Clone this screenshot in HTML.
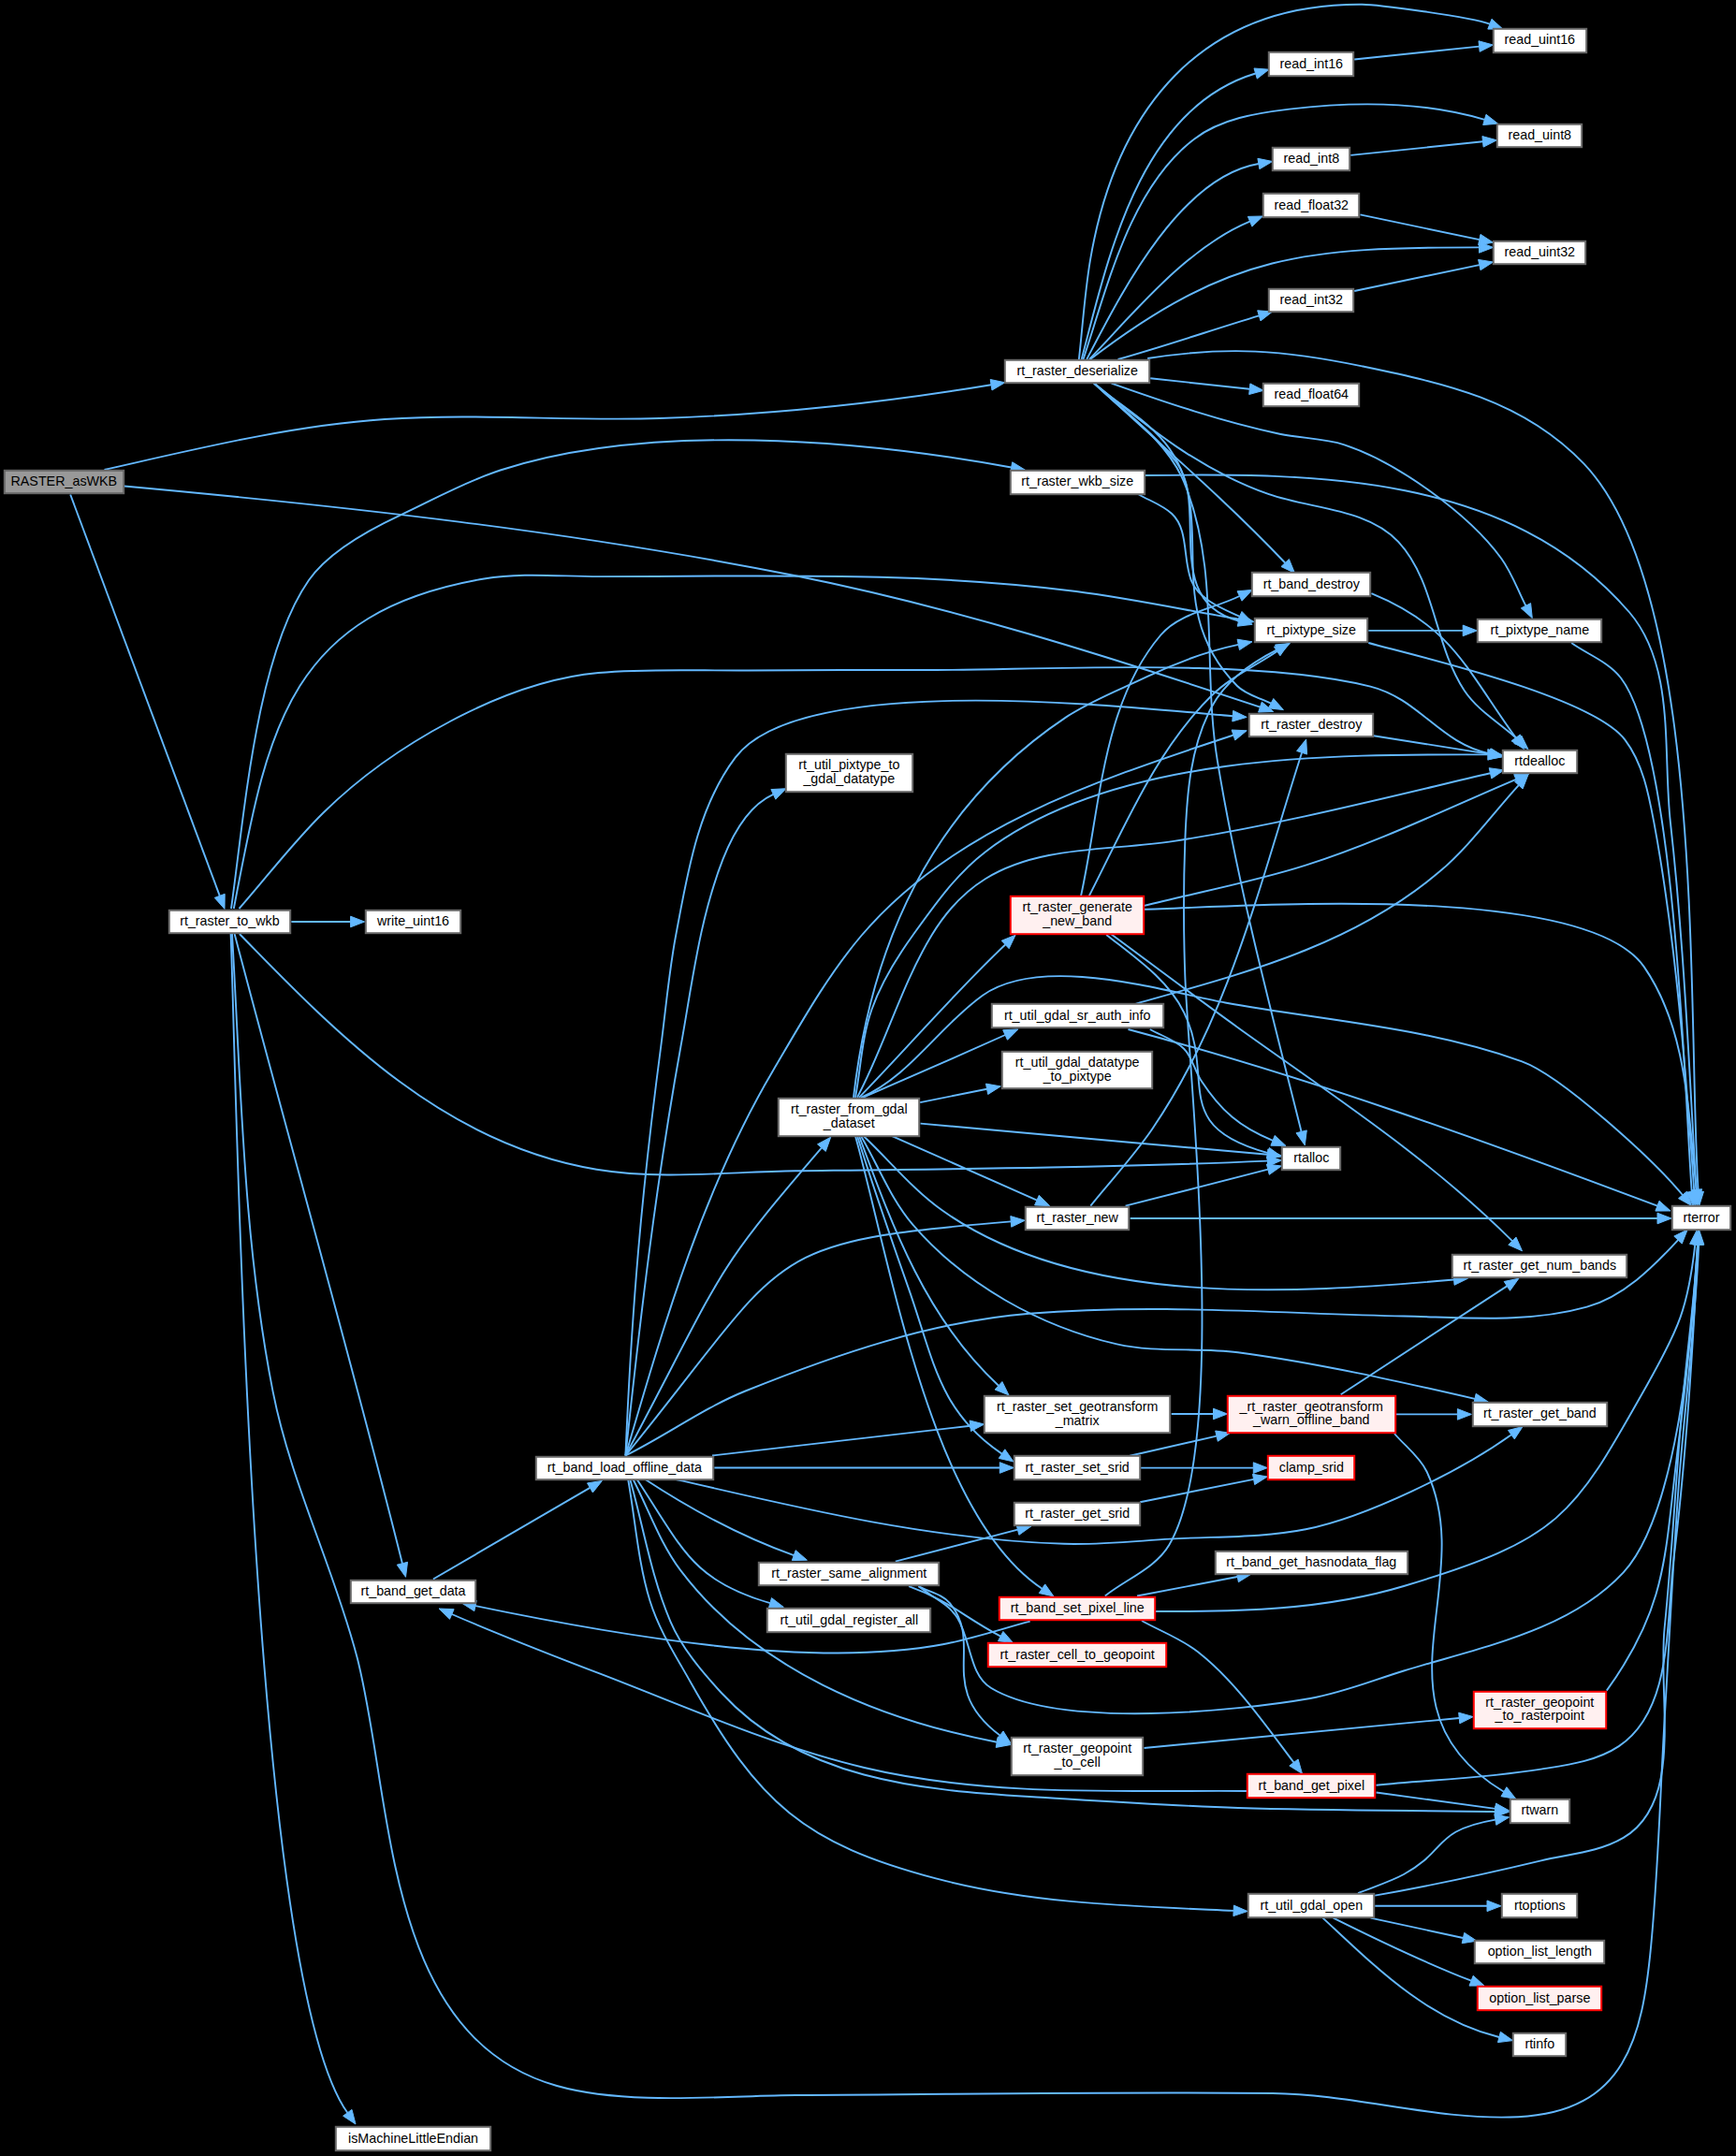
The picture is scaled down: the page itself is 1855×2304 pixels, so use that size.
<!DOCTYPE html>
<html><head><meta charset="utf-8"><style>
html,body{margin:0;padding:0;background:#000;width:1855px;height:2304px;overflow:hidden}
svg{display:block}
path{fill:none;stroke:#63b8ff;stroke-width:1.9}
polygon.ah{fill:#63b8ff;stroke:#63b8ff;stroke-width:1}
rect.nn{fill:#fff;stroke:#666;stroke-width:2}
rect.nd{fill:#fff0f0;stroke:#f00;stroke-width:2}
rect.nr{fill:#999;stroke:#666;stroke-width:2}
text{font-family:"Liberation Sans",sans-serif;font-size:14.3px;fill:#000;text-anchor:middle}
</style></head><body>
<svg width="1855" height="2304" viewBox="0 0 1855 2304">
<g>
<path d="M111.5,502.0 C209.8,479.8 310.1,454.9 411.0,448.0 C508.7,441.4 606.9,450.1 704.8,447.0 C827.4,443.1 939.7,431.0 1059.1,411.2"/>
<polygon class="ah" points="1073.9,408.8 1060.0,417.0 1058.2,405.5"/>
<path d="M75.2,528.5 L234.8,957.3"/>
<polygon class="ah" points="240.0,971.4 229.3,959.4 240.2,955.3"/>
<path d="M311.3,985.0 L374.6,985.0"/>
<polygon class="ah" points="389.6,985.0 374.6,990.8 374.6,979.2"/>
<path d="M1152.9,384.0 C1156.9,348.8 1159.0,313.3 1164.9,278.3 C1192.4,116.4 1283.3,3.3 1455.5,4.7 C1470.0,4.8 1571.0,17.7 1591.9,25.7"/>
<polygon class="ah" points="1605.9,31.1 1589.8,31.1 1594.0,20.3"/>
<path d="M1155.7,384.0 C1183.6,277.8 1216.6,116.0 1341.6,78.5"/>
<polygon class="ah" points="1356.0,74.2 1343.3,84.1 1340.0,73.0"/>
<path d="M1157.5,384.0 C1182.9,307.8 1207.0,201.3 1276.3,148.4 C1304.5,126.9 1342.6,120.8 1377.8,116.6 C1444.4,108.7 1521.2,108.4 1586.3,127.9"/>
<polygon class="ah" points="1600.7,132.2 1584.7,133.5 1588.0,122.3"/>
<path d="M1161.2,384.0 C1195.8,318.0 1258.9,189.6 1344.9,175.0"/>
<polygon class="ah" points="1359.7,172.5 1345.9,180.7 1343.9,169.3"/>
<path d="M1164.0,384.0 C1212.3,333.7 1268.2,264.6 1335.6,236.7"/>
<polygon class="ah" points="1349.5,231.0 1337.9,242.1 1333.4,231.4"/>
<path d="M1164.9,384.0 C1313.7,270.2 1396.3,264.4 1580.5,264.4"/>
<polygon class="ah" points="1595.5,264.4 1580.5,270.2 1580.5,258.6"/>
<path d="M1194.6,384.0 C1245.3,369.7 1295.2,352.6 1345.4,337.4"/>
<polygon class="ah" points="1359.7,333.0 1347.0,342.9 1343.7,331.8"/>
<path d="M1229.2,404.3 L1335.3,415.7"/>
<polygon class="ah" points="1350.2,417.3 1334.7,421.5 1335.9,409.9"/>
<path d="M1447.2,63.5 L1580.6,49.6"/>
<polygon class="ah" points="1595.5,48.0 1581.2,55.3 1580.0,43.8"/>
<path d="M1443.3,165.9 L1584.5,151.3"/>
<polygon class="ah" points="1599.4,149.8 1585.1,157.1 1583.9,145.6"/>
<path d="M1453.4,229.4 L1580.8,256.1"/>
<polygon class="ah" points="1595.5,259.2 1579.6,261.8 1582.0,250.4"/>
<path d="M1447.2,311.0 L1580.8,283.1"/>
<polygon class="ah" points="1595.5,280.0 1582.0,288.7 1579.6,277.4"/>
<path d="M1226.2,383.0 C1311.5,369.6 1371.5,373.9 1455.5,391.4 C1543.0,409.6 1626.4,426.8 1692.3,495.4 C1824.3,632.8 1802.8,1088.8 1814.7,1273.6"/>
<polygon class="ah" points="1815.7,1288.6 1808.9,1274.0 1820.5,1273.3"/>
<path d="M1462.3,673.9 L1563.2,673.9"/>
<polygon class="ah" points="1578.2,673.9 1563.2,679.7 1563.2,668.1"/>
<path d="M1462.3,687.0 C1511.4,700.6 1700.8,743.7 1736.4,790.6 C1755.2,815.4 1761.6,848.1 1767.3,878.7 C1790.5,1003.4 1801.6,1145.5 1810.3,1273.6"/>
<polygon class="ah" points="1811.3,1288.6 1804.5,1274.0 1816.1,1273.2"/>
<path d="M1679.1,687.0 C1696.7,699.5 1718.9,707.3 1732.0,724.5 C1792.0,802.9 1800.9,1191.5 1807.8,1273.7"/>
<polygon class="ah" points="1809.1,1288.6 1802.1,1274.1 1813.6,1273.2"/>
<path d="M1465.4,634.2 C1552.6,670.0 1566.7,715.3 1619.7,788.4"/>
<polygon class="ah" points="1628.5,800.5 1615.0,791.8 1624.4,785.0"/>
<path d="M1467.6,786.2 L1591.6,805.9"/>
<polygon class="ah" points="1606.4,808.3 1590.7,811.7 1592.5,800.2"/>
<path d="M132.7,519.5 C372.5,541.4 612.6,568.0 848.8,615.0 C1017.0,648.5 1183.7,701.3 1346.5,755.6"/>
<polygon class="ah" points="1360.7,760.4 1344.6,761.1 1348.3,750.1"/>
<path d="M247.0,971.0 C260.8,874.5 273.2,701.4 330.0,620.0 C351.7,588.9 394.3,566.1 427.6,550.6 C463.0,534.1 497.4,514.5 534.6,502.5 C693.7,451.1 917.0,469.6 1080.6,499.5"/>
<polygon class="ah" points="1095.4,502.2 1079.6,505.2 1081.7,493.8"/>
<path d="M249.8,971.0 C285.4,786.0 303.7,654.8 517.2,618.5 C557.4,611.7 598.8,616.1 639.6,616.1 C810.9,616.1 980.4,610.2 1150.0,632.0 C1208.5,639.5 1267.0,652.1 1325.2,662.0"/>
<polygon class="ah" points="1340.0,664.5 1324.2,667.7 1326.2,656.3"/>
<path d="M255.5,971.0 C285.6,936.7 313.2,900.1 345.8,868.2 C417.4,798.1 537.6,728.1 639.6,719.0 C692.9,714.2 746.5,716.9 800.0,716.5 C866.7,715.9 933.3,716.1 1000.0,716.0 C1115.4,715.8 1340.8,702.6 1464.3,733.6 C1517.0,746.8 1538.8,794.8 1592.4,805.6"/>
<polygon class="ah" points="1607.1,808.6 1591.2,811.3 1593.5,799.9"/>
<path d="M250.6,998.0 C309.7,1222.7 373.5,1445.4 429.9,1670.7"/>
<polygon class="ah" points="433.5,1685.3 424.2,1672.2 435.5,1669.3"/>
<path d="M246.6,998.0 C253.5,1181.9 267.1,2112.4 371.3,2257.8"/>
<polygon class="ah" points="380.0,2270.0 366.6,2261.2 376.0,2254.4"/>
<path d="M255.9,998.0 C364.4,1109.7 476.4,1223.3 637.5,1249.7 C707.4,1261.2 779.2,1252.1 850.0,1251.3 C1018.2,1249.3 1186.4,1247.8 1354.4,1240.6"/>
<polygon class="ah" points="1369.4,1240.0 1354.7,1246.4 1354.2,1234.8"/>
<path d="M248.0,998.0 C257.5,1161.2 260.0,1326.1 291.5,1486.6 C310.6,1584.0 356.3,1674.5 381.4,1770.5 C420.4,1919.8 407.6,2175.9 595.0,2229.0 C671.1,2250.6 778.0,2239.3 850.0,2239.0 C1020.0,2238.2 1190.0,2235.0 1360.0,2237.0 C1447.8,2238.0 1534.5,2266.4 1622.2,2262.2 C1737.8,2256.7 1754.8,2176.0 1764.0,2081.3 C1771.9,2000.0 1773.8,1918.3 1778.7,1836.8 C1783.6,1755.3 1787.5,1673.7 1793.4,1592.3 C1799.8,1504.6 1811.4,1417.8 1815.2,1330.0"/>
<polygon class="ah" points="1815.8,1315.0 1820.9,1330.2 1809.4,1329.7"/>
<path d="M462.9,1687.5 L630.4,1589.9"/>
<polygon class="ah" points="643.4,1582.4 633.4,1595.0 627.5,1584.9"/>
<path d="M668.4,1555.5 C684.1,1408.1 701.0,1264.6 727.4,1118.5 C739.6,1051.2 747.5,981.9 772.5,918.2 C783.2,891.0 799.7,861.0 826.3,848.9"/>
<polygon class="ah" points="840.0,842.7 828.8,854.2 823.9,843.6"/>
<path d="M668.4,1555.5 C675.1,1398.2 685.4,1275.7 706.2,1118.5 C711.4,1079.0 714.7,1039.2 722.1,1000.0 C734.5,934.2 745.3,863.0 785.7,809.6 C857.4,714.8 1211.8,756.7 1317.2,765.2"/>
<polygon class="ah" points="1332.2,766.4 1316.8,771.0 1317.7,759.4"/>
<path d="M668.4,1555.5 C777.1,1350.8 758.5,1365.6 877.9,1226.6"/>
<polygon class="ah" points="887.7,1215.2 882.3,1230.4 873.5,1222.8"/>
<path d="M668.4,1555.5 C709.6,1414.9 751.1,1271.2 825.5,1145.0 C854.8,1095.3 883.0,1044.1 920.3,1000.0 C1019.6,882.7 1177.5,832.3 1318.0,785.5"/>
<polygon class="ah" points="1332.2,780.8 1319.8,791.0 1316.1,780.0"/>
<path d="M668.4,1555.5 C845.7,1337.5 808.4,1327.6 1080.2,1305.4"/>
<polygon class="ah" points="1095.2,1304.2 1080.7,1311.2 1079.8,1299.6"/>
<path d="M668.4,1555.5 C711.9,1534.0 751.5,1504.7 796.5,1486.5 C893.7,1447.2 995.5,1412.2 1100.0,1403.7 C1232.9,1392.9 1366.7,1403.6 1500.0,1406.5 C1565.3,1407.9 1632.8,1414.4 1695.6,1396.7 C1734.4,1385.8 1765.8,1354.8 1793.1,1325.1"/>
<polygon class="ah" points="1803.2,1314.0 1797.3,1329.0 1788.8,1321.1"/>
<path d="M761.0,1555.5 L1036.8,1523.7"/>
<polygon class="ah" points="1051.7,1522.0 1037.5,1529.5 1036.1,1518.0"/>
<path d="M763.3,1568.5 L1068.3,1568.5"/>
<polygon class="ah" points="1083.3,1568.5 1068.3,1574.3 1068.3,1562.7"/>
<path d="M912.0,1172.8 C931.0,1006.5 996.9,861.3 1139.2,766.4 C1166.0,748.5 1196.6,737.1 1225.6,723.2 C1256.7,708.3 1289.5,696.0 1323.3,688.9"/>
<polygon class="ah" points="1338.0,685.8 1324.5,694.6 1322.1,683.2"/>
<path d="M914.0,1172.8 C919.8,1141.4 920.9,1108.8 931.5,1078.7 C941.5,1050.4 957.5,1024.3 975.0,1000.0 C998.1,967.9 1021.3,934.4 1052.8,910.4 C1190.4,805.4 1424.3,805.8 1589.8,806.4"/>
<polygon class="ah" points="1604.8,806.5 1589.8,812.2 1589.8,800.6"/>
<path d="M916.0,1172.8 C945.6,1116.8 962.5,1054.3 995.2,1000.0 C1009.6,976.1 1029.1,953.9 1052.8,939.2 C1111.0,903.0 1186.7,909.4 1254.4,898.9 C1367.7,881.3 1480.9,852.4 1592.5,826.3"/>
<polygon class="ah" points="1607.1,822.9 1593.8,832.0 1591.2,820.7"/>
<path d="M918.0,1172.8 C970.6,1118.7 1019.4,1061.4 1074.2,1009.5"/>
<polygon class="ah" points="1085.1,999.2 1078.2,1013.7 1070.2,1005.3"/>
<path d="M920.0,1172.8 C972.0,1150.4 1003.9,1096.5 1050.0,1063.7 C1113.9,1018.2 1249.9,1060.7 1309.2,1071.5 C1415.2,1090.7 1525.0,1097.7 1626.3,1134.3 C1668.6,1149.6 1767.3,1240.1 1797.9,1277.0"/>
<polygon class="ah" points="1807.5,1288.5 1793.5,1280.7 1802.4,1273.3"/>
<path d="M922.0,1172.8 C972.8,1150.9 1023.6,1128.7 1074.1,1106.0"/>
<polygon class="ah" points="1087.8,1099.9 1076.5,1111.3 1071.7,1100.8"/>
<path d="M983.1,1178.1 L1054.6,1163.8"/>
<polygon class="ah" points="1069.3,1160.9 1055.7,1169.5 1053.5,1158.1"/>
<path d="M983.5,1200.6 C1107.1,1211.8 1230.8,1223.2 1354.5,1233.7"/>
<polygon class="ah" points="1369.4,1235.0 1354.0,1239.5 1354.9,1227.9"/>
<path d="M952.7,1213.9 L1108.0,1282.6"/>
<polygon class="ah" points="1121.7,1288.7 1105.6,1287.9 1110.3,1277.3"/>
<path d="M922.7,1214.0 C950.7,1240.4 975.2,1271.0 1006.6,1293.3 C1154.3,1398.3 1383.6,1382.4 1553.6,1367.5"/>
<polygon class="ah" points="1568.5,1366.2 1554.1,1373.3 1553.1,1361.7"/>
<path d="M920.0,1214.0 C938.5,1245.6 951.6,1281.1 975.5,1308.9 C1030.4,1372.6 1111.3,1417.5 1193.3,1436.4 C1235.5,1446.1 1280.0,1439.5 1322.9,1445.2 C1408.1,1456.6 1492.1,1475.6 1575.9,1494.9"/>
<polygon class="ah" points="1590.5,1498.3 1574.6,1500.6 1577.2,1489.3"/>
<path d="M1155.0,957.6 C1175.9,862.6 1177.3,752.5 1240.4,678.5 C1260.7,654.7 1296.5,650.9 1324.5,637.0"/>
<polygon class="ah" points="1338.0,630.4 1327.1,642.2 1322.0,631.8"/>
<path d="M1163.9,957.2 C1201.9,883.2 1234.9,802.6 1294.0,744.0 C1314.2,723.9 1341.1,712.0 1364.7,696.0"/>
<polygon class="ah" points="1377.1,687.6 1367.9,700.8 1361.4,691.2"/>
<path d="M1221.7,968.1 C1279.5,953.6 1338.4,942.8 1395.2,924.7 C1472.3,900.2 1545.5,864.5 1620.0,832.9"/>
<polygon class="ah" points="1633.8,827.1 1622.2,838.3 1617.7,827.6"/>
<path d="M1221.7,971.7 C1312.1,970.4 1691.7,939.6 1756.7,1033.1 C1803.3,1100.1 1803.8,1190.2 1812.8,1271.3"/>
<polygon class="ah" points="1814.5,1286.2 1807.1,1271.9 1818.6,1270.7"/>
<path d="M1182.2,998.9 C1212.9,1023.1 1248.0,1046.7 1265.1,1081.8 C1299.9,1153.4 1248.1,1203.0 1354.9,1232.1"/>
<polygon class="ah" points="1369.4,1236.0 1353.4,1237.7 1356.4,1226.5"/>
<path d="M1185.6,997.0 C1231.4,1030.7 1276.7,1065.0 1322.9,1098.2 C1424.7,1171.3 1527.0,1237.3 1615.9,1326.2"/>
<polygon class="ah" points="1626.5,1336.8 1611.8,1330.3 1620.0,1322.1"/>
<path d="M1213.3,1072.8 C1329.6,1039.7 1443.5,1011.6 1538.1,931.6 C1570.0,904.6 1594.6,870.0 1622.8,839.1"/>
<polygon class="ah" points="1632.9,828.0 1627.1,843.0 1618.5,835.2"/>
<path d="M1205.5,1100.0 C1397.7,1151.1 1584.9,1218.7 1771.0,1288.7"/>
<polygon class="ah" points="1785.0,1294.0 1768.9,1294.1 1773.0,1283.3"/>
<path d="M1228.8,1100.0 C1240.9,1106.9 1255.2,1110.9 1265.1,1120.7 C1274.1,1129.7 1276.3,1143.7 1283.3,1154.4 C1304.7,1187.1 1324.7,1204.6 1360.1,1218.8"/>
<polygon class="ah" points="1374.0,1224.4 1357.9,1224.2 1362.2,1213.4"/>
<path d="M1207.7,1302.0 L1771.0,1302.0"/>
<polygon class="ah" points="1786.0,1302.0 1771.0,1307.8 1771.0,1296.2"/>
<path d="M1202.6,1288.7 L1354.9,1249.7"/>
<polygon class="ah" points="1369.4,1246.0 1356.3,1255.3 1353.4,1244.1"/>
<path d="M1165.3,1288.7 C1187.3,1261.2 1211.6,1235.3 1231.4,1206.2 C1313.7,1085.5 1347.1,941.4 1391.1,804.3"/>
<polygon class="ah" points="1395.7,790.0 1396.6,806.1 1385.6,802.5"/>
<path d="M1169.0,409.6 C1203.9,441.9 1247.0,471.2 1265.2,515.2 C1303.8,608.7 1284.7,714.4 1300.8,812.6 C1322.8,946.3 1357.7,1078.1 1390.6,1209.4"/>
<polygon class="ah" points="1394.3,1223.9 1385.0,1210.8 1396.3,1207.9"/>
<path d="M1169.0,409.6 C1196.0,433.1 1229.6,450.6 1250.0,480.0 C1302.7,555.8 1238.8,648.4 1322.0,733.0 C1331.5,742.7 1346.1,745.5 1358.1,751.7"/>
<polygon class="ah" points="1371.4,758.6 1355.4,756.8 1360.8,746.5"/>
<path d="M1169.0,409.6 C1198.3,437.6 1232.2,461.5 1256.8,493.7 C1292.5,540.5 1240.4,642.0 1323.7,663.5"/>
<polygon class="ah" points="1338.2,667.3 1322.2,669.2 1325.1,657.9"/>
<path d="M1216.5,528.2 C1228.4,535.1 1242.1,539.6 1252.2,549.0 C1270.3,565.9 1263.8,597.4 1272.9,620.4 C1280.8,640.3 1305.0,649.8 1324.6,658.8"/>
<polygon class="ah" points="1338.2,665.0 1322.1,664.0 1327.0,653.5"/>
<path d="M1169.2,409.6 C1237.8,473.4 1308.8,533.5 1373.2,601.5"/>
<polygon class="ah" points="1383.5,612.4 1369.0,605.5 1377.4,597.5"/>
<path d="M1187.6,409.6 C1246.6,430.5 1306.2,450.6 1367.4,463.7 C1390.2,468.6 1414.3,468.0 1436.5,475.3 C1492.5,493.6 1569.4,549.2 1604.2,596.7 C1615.4,612.0 1621.7,630.4 1630.4,647.3"/>
<polygon class="ah" points="1637.3,660.6 1625.3,649.9 1635.6,644.6"/>
<path d="M1169.2,409.6 C1227.2,457.5 1283.8,503.0 1355.9,528.2 C1402.2,544.4 1460.6,543.0 1494.1,578.9 C1533.6,621.2 1532.6,689.4 1564.6,737.7 C1578.9,759.3 1602.8,772.8 1621.9,790.3"/>
<polygon class="ah" points="1632.9,800.5 1617.9,794.6 1625.8,786.1"/>
<path d="M1223.4,508.0 C1403.1,505.6 1612.5,505.1 1740.8,654.0 C1790.6,711.8 1776.5,802.8 1784.9,878.7 C1799.5,1009.9 1805.0,1141.9 1812.6,1273.6"/>
<polygon class="ah" points="1813.5,1288.6 1806.8,1274.0 1818.4,1273.3"/>
<path d="M1180.8,1705.5 C1203.6,1687.3 1234.5,1676.1 1249.3,1651.0 C1314.2,1541.2 1270.2,1151.1 1266.3,1042.7 C1264.6,994.8 1264.5,946.8 1266.3,898.9 C1268.1,850.0 1271.7,798.0 1295.0,755.0 C1309.8,727.8 1337.4,708.0 1365.1,694.2"/>
<polygon class="ah" points="1378.5,687.5 1367.7,699.4 1362.5,689.0"/>
<path d="M718.5,1580.0 C856.4,1612.2 994.6,1645.3 1137.0,1649.8 C1174.7,1651.0 1212.4,1646.9 1250.0,1644.6 C1298.4,1641.7 1347.6,1643.8 1395.2,1634.3 C1459.0,1621.6 1559.4,1572.9 1614.9,1533.2"/>
<polygon class="ah" points="1627.1,1524.5 1618.3,1537.9 1611.5,1528.5"/>
<path d="M688.0,1580.0 C738.1,1613.0 791.7,1642.0 848.3,1662.2"/>
<polygon class="ah" points="862.4,1667.2 846.3,1667.6 850.2,1656.7"/>
<path d="M680.0,1580.0 C729.8,1654.7 738.0,1688.3 822.9,1713.2"/>
<polygon class="ah" points="837.3,1717.4 821.3,1718.7 824.5,1707.6"/>
<path d="M676.0,1580.0 C693.1,1612.7 705.0,1648.7 727.2,1678.1 C807.0,1783.8 939.4,1837.8 1065.3,1861.7"/>
<polygon class="ah" points="1080.0,1864.5 1064.2,1867.4 1066.3,1856.0"/>
<path d="M673.0,1580.0 C687.4,1630.9 695.5,1684.0 716.3,1732.6 C728.6,1761.4 749.7,1785.9 770.8,1809.0 C855.6,1901.5 982.6,1912.9 1100.0,1920.0 C1174.3,1924.5 1248.5,1929.6 1322.9,1932.0 C1414.4,1934.9 1506.0,1934.7 1597.6,1936.0"/>
<polygon class="ah" points="1612.6,1936.2 1597.5,1941.8 1597.7,1930.2"/>
<path d="M671.0,1580.0 C678.8,1623.6 681.5,1668.5 694.5,1710.8 C704.1,1741.9 722.2,1769.7 738.1,1798.0 C811.0,1927.6 858.7,1969.9 1000.0,2007.4 C1103.1,2034.7 1211.6,2037.2 1318.1,2041.9"/>
<polygon class="ah" points="1333.1,2042.5 1317.9,2047.6 1318.4,2036.1"/>
<path d="M918.0,1214.0 C953.7,1310.7 989.4,1409.0 1067.0,1480.7"/>
<polygon class="ah" points="1078.0,1490.9 1063.1,1485.0 1070.9,1476.5"/>
<path d="M916.0,1214.0 C933.2,1268.5 951.7,1322.5 970.7,1376.4 C997.7,1453.0 1002.8,1507.9 1070.6,1553.6"/>
<polygon class="ah" points="1083.0,1562.0 1067.3,1558.4 1073.8,1548.8"/>
<path d="M914.0,1214.0 C952.1,1351.9 995.0,1619.1 1113.5,1697.7"/>
<polygon class="ah" points="1126.0,1706.0 1110.3,1702.5 1116.7,1692.9"/>
<path d="M1251.7,1511.0 L1296.5,1511.0"/>
<polygon class="ah" points="1311.5,1511.0 1296.5,1516.8 1296.5,1505.2"/>
<path d="M1491.8,1511.4 L1557.4,1511.4"/>
<polygon class="ah" points="1572.4,1511.4 1557.4,1517.2 1557.4,1505.6"/>
<path d="M1207.3,1555.7 L1300.0,1534.6"/>
<polygon class="ah" points="1314.6,1531.3 1301.3,1540.3 1298.7,1529.0"/>
<path d="M1219.1,1568.6 L1339.3,1568.6"/>
<polygon class="ah" points="1354.3,1568.6 1339.3,1574.4 1339.3,1562.8"/>
<path d="M1218.2,1605.2 L1339.6,1580.9"/>
<polygon class="ah" points="1354.3,1578.0 1340.7,1586.6 1338.5,1575.3"/>
<path d="M1432.7,1490.3 L1610.3,1374.4"/>
<polygon class="ah" points="1622.9,1366.2 1613.5,1379.3 1607.2,1369.5"/>
<path d="M1490.0,1532.0 C1501.5,1545.5 1516.9,1556.5 1524.5,1572.5 C1581.0,1692.0 1459.0,1826.0 1606.9,1914.7"/>
<polygon class="ah" points="1619.8,1922.4 1604.0,1919.7 1609.9,1909.7"/>
<path d="M956.8,1668.7 L1087.5,1634.7"/>
<polygon class="ah" points="1102.0,1630.9 1088.9,1640.3 1086.0,1629.1"/>
<path d="M971.1,1695.1 C1015.4,1711.0 1030.0,1728.1 1069.2,1748.6"/>
<polygon class="ah" points="1082.5,1755.5 1066.5,1753.7 1071.9,1743.4"/>
<path d="M981.4,1695.1 C992.6,1701.2 1007.0,1703.4 1015.1,1713.3 C1052.0,1758.4 999.4,1802.3 1068.5,1854.6"/>
<polygon class="ah" points="1080.5,1863.6 1065.0,1859.2 1072.0,1849.9"/>
<path d="M981.4,1695.1 C995.2,1706.3 1013.5,1713.7 1022.9,1728.8 C1037.7,1752.4 1035.3,1789.7 1059.2,1804.0 C1133.8,1848.7 1326.4,1827.7 1400.0,1815.0 C1434.2,1809.1 1466.8,1795.7 1500.0,1785.5 C1581.9,1760.3 1676.4,1743.1 1734.7,1680.3 C1792.8,1617.7 1808.7,1421.5 1814.1,1330.0"/>
<polygon class="ah" points="1815.0,1315.0 1819.9,1330.3 1808.3,1329.6"/>
<path d="M1215.0,1705.5 L1322.3,1685.0"/>
<polygon class="ah" points="1337.0,1682.2 1323.4,1690.7 1321.2,1679.3"/>
<path d="M1235.0,1722.0 C1323.8,1722.4 1415.0,1720.6 1500.0,1695.0 C1669.6,1643.9 1680.6,1621.0 1760.0,1480.0 C1793.7,1420.1 1803.8,1397.6 1811.3,1329.9"/>
<polygon class="ah" points="1813.0,1315.0 1817.1,1330.5 1805.6,1329.3"/>
<path d="M1220.0,1732.0 C1240.0,1743.1 1262.0,1751.1 1280.0,1765.2 C1319.6,1796.2 1352.2,1843.4 1382.5,1883.5"/>
<polygon class="ah" points="1391.5,1895.5 1377.8,1887.0 1387.1,1880.0"/>
<path d="M1100.7,1732.7 C1069.6,1740.9 1039.0,1751.3 1007.4,1757.3 C863.7,1784.5 647.5,1745.1 508.0,1716.1"/>
<polygon class="ah" points="493.3,1713.0 509.2,1710.4 506.8,1721.7"/>
<path d="M1222.5,1868.0 L1559.3,1836.0"/>
<polygon class="ah" points="1574.2,1834.6 1559.8,1841.8 1558.7,1830.2"/>
<path d="M1716.8,1806.6 C1783.4,1714.5 1778.5,1661.0 1793.4,1543.4 C1802.4,1472.5 1809.2,1401.3 1814.0,1330.0"/>
<polygon class="ah" points="1815.0,1315.0 1819.8,1330.4 1808.2,1329.6"/>
<path d="M1470.5,1907.7 C1529.2,1902.0 1588.4,1899.9 1646.7,1890.6 C1675.2,1886.0 1705.8,1882.1 1729.8,1866.1 C1787.7,1827.4 1780.0,1734.7 1788.5,1665.6 C1802.1,1555.1 1809.1,1441.4 1814.3,1330.0"/>
<polygon class="ah" points="1815.0,1315.0 1820.1,1330.3 1808.5,1329.7"/>
<path d="M1470.5,1915.5 L1597.7,1932.9"/>
<polygon class="ah" points="1612.6,1934.9 1597.0,1938.6 1598.5,1927.1"/>
<path d="M1332.4,1914.0 C1199.2,1913.0 1055.8,1920.4 923.5,1889.0 C826.4,1866.0 732.7,1823.7 640.0,1788.2 C587.2,1768.0 534.6,1747.5 482.8,1725.0"/>
<polygon class="ah" points="469.0,1719.0 485.1,1719.7 480.5,1730.3"/>
<path d="M1451.1,2023.1 C1467.4,2016.4 1484.5,2011.4 1500.0,2003.0 C1547.0,1977.6 1530.4,1956.3 1597.8,1944.6"/>
<polygon class="ah" points="1612.6,1942.0 1598.8,1950.3 1596.8,1938.9"/>
<path d="M1469.2,2025.6 C1528.7,2015.2 1587.9,2002.5 1646.7,1988.4 C1676.3,1981.3 1708.5,1979.4 1734.7,1963.9 C1800.5,1925.0 1770.9,1815.0 1778.7,1739.0 C1787.0,1657.7 1790.8,1575.9 1798.3,1494.5 C1803.4,1439.6 1810.9,1385.0 1814.1,1330.0"/>
<polygon class="ah" points="1815.0,1315.0 1819.9,1330.3 1808.3,1329.6"/>
<path d="M1469.2,2036.8 L1589.0,2036.8"/>
<polygon class="ah" points="1604.0,2036.8 1589.0,2042.6 1589.0,2031.0"/>
<path d="M1464.6,2049.6 L1563.4,2071.0"/>
<polygon class="ah" points="1578.1,2074.2 1562.2,2076.7 1564.7,2065.4"/>
<path d="M1424.7,2049.6 C1473.4,2073.9 1521.3,2097.1 1572.1,2116.7"/>
<polygon class="ah" points="1586.1,2122.1 1570.0,2122.1 1574.2,2111.3"/>
<path d="M1413.5,2049.6 C1470.4,2102.6 1524.6,2157.6 1601.9,2177.0"/>
<polygon class="ah" points="1616.5,2180.6 1600.5,2182.6 1603.4,2171.3"/>
</g>
<g>
<rect class="nr" x="4.8" y="502.8" width="127.4" height="24.4"/>
<text x="68.3" y="519.1">RASTER_asWKB</text>
<rect class="nn" x="180.8" y="972.8" width="129.4" height="24.4"/>
<text x="245.4" y="989.0">rt_raster_to_wkb</text>
<rect class="nn" x="390.8" y="972.8" width="101.4" height="24.4"/>
<text x="441.5" y="989.0">write_uint16</text>
<rect class="nn" x="374.8" y="1688.8" width="133.4" height="24.4"/>
<text x="441.5" y="1705.2">rt_band_get_data</text>
<rect class="nn" x="358.8" y="2272.8" width="165.4" height="25.4"/>
<text x="441.5" y="2289.7">isMachineLittleEndian</text>
<rect class="nn" x="572.8" y="1556.8" width="189.4" height="24.4"/>
<text x="667.4" y="1573.0">rt_band_load_offline_data</text>
<rect class="nn" x="839.8" y="805.8" width="135.4" height="40.4"/>
<text x="907.3" y="822.2">rt_util_pixtype_to</text>
<text x="907.3" y="836.9">_gdal_datatype</text>
<rect class="nn" x="831.8" y="1173.8" width="150.4" height="40.4"/>
<text x="907.3" y="1190.0">rt_raster_from_gdal</text>
<text x="907.3" y="1204.8">_dataset</text>
<rect class="nn" x="810.8" y="1669.8" width="192.4" height="24.4"/>
<text x="907.3" y="1685.9">rt_raster_same_alignment</text>
<rect class="nn" x="819.8" y="1718.8" width="174.4" height="25.4"/>
<text x="907.3" y="1735.5">rt_util_gdal_register_all</text>
<rect class="nn" x="1073.8" y="384.8" width="154.4" height="24.4"/>
<text x="1151.2" y="401.0">rt_raster_deserialize</text>
<rect class="nn" x="1079.8" y="502.8" width="143.4" height="25.4"/>
<text x="1151.2" y="519.4">rt_raster_wkb_size</text>
<rect class="nd" x="1079.8" y="957.8" width="142.4" height="40.4"/>
<text x="1151.2" y="974.2">rt_raster_generate</text>
<text x="1151.2" y="988.9">_new_band</text>
<rect class="nn" x="1059.8" y="1072.8" width="183.4" height="25.4"/>
<text x="1151.2" y="1089.8">rt_util_gdal_sr_auth_info</text>
<rect class="nn" x="1070.8" y="1123.8" width="160.4" height="39.4"/>
<text x="1151.2" y="1139.8">rt_util_gdal_datatype</text>
<text x="1151.2" y="1154.5">_to_pixtype</text>
<rect class="nn" x="1095.8" y="1289.8" width="110.4" height="24.4"/>
<text x="1151.2" y="1306.1">rt_raster_new</text>
<rect class="nn" x="1051.8" y="1491.8" width="198.4" height="39.4"/>
<text x="1151.2" y="1508.0">rt_raster_set_geotransform</text>
<text x="1151.2" y="1522.7">_matrix</text>
<rect class="nn" x="1083.8" y="1555.8" width="134.4" height="25.4"/>
<text x="1151.2" y="1572.8">rt_raster_set_srid</text>
<rect class="nn" x="1083.8" y="1605.8" width="134.4" height="24.4"/>
<text x="1151.2" y="1622.0">rt_raster_get_srid</text>
<rect class="nd" x="1067.8" y="1706.8" width="166.4" height="24.4"/>
<text x="1151.2" y="1723.2">rt_band_set_pixel_line</text>
<rect class="nd" x="1055.8" y="1755.8" width="190.4" height="25.4"/>
<text x="1151.2" y="1772.8">rt_raster_cell_to_geopoint</text>
<rect class="nn" x="1080.8" y="1856.8" width="140.4" height="40.4"/>
<text x="1151.2" y="1873.2">rt_raster_geopoint</text>
<text x="1151.2" y="1887.9">_to_cell</text>
<rect class="nn" x="1355.8" y="55.8" width="90.4" height="25.4"/>
<text x="1401.3" y="72.8">read_int16</text>
<rect class="nn" x="1359.8" y="157.8" width="82.4" height="24.4"/>
<text x="1401.3" y="173.9">read_int8</text>
<rect class="nn" x="1349.8" y="206.8" width="102.4" height="25.4"/>
<text x="1401.3" y="223.6">read_float32</text>
<rect class="nn" x="1355.8" y="308.8" width="90.4" height="24.4"/>
<text x="1401.3" y="325.1">read_int32</text>
<rect class="nn" x="1349.8" y="409.8" width="102.4" height="24.4"/>
<text x="1401.3" y="426.0">read_float64</text>
<rect class="nn" x="1337.8" y="611.8" width="126.4" height="25.4"/>
<text x="1401.3" y="628.8">rt_band_destroy</text>
<rect class="nn" x="1340.8" y="660.8" width="120.4" height="25.4"/>
<text x="1401.3" y="677.8">rt_pixtype_size</text>
<rect class="nn" x="1334.8" y="762.8" width="132.4" height="24.4"/>
<text x="1401.3" y="779.1">rt_raster_destroy</text>
<rect class="nn" x="1369.8" y="1225.8" width="62.4" height="24.4"/>
<text x="1401.3" y="1241.9">rtalloc</text>
<rect class="nd" x="1311.8" y="1491.8" width="179.4" height="39.4"/>
<text x="1401.3" y="1507.6">_rt_raster_geotransform</text>
<text x="1401.3" y="1522.3">_warn_offline_band</text>
<rect class="nd" x="1354.8" y="1555.8" width="92.4" height="25.4"/>
<text x="1401.3" y="1572.5">clamp_srid</text>
<rect class="nn" x="1298.8" y="1657.8" width="205.4" height="24.4"/>
<text x="1401.3" y="1673.9">rt_band_get_hasnodata_flag</text>
<rect class="nd" x="1332.8" y="1895.8" width="136.4" height="25.4"/>
<text x="1401.3" y="1912.8">rt_band_get_pixel</text>
<rect class="nn" x="1333.8" y="2023.8" width="134.4" height="25.4"/>
<text x="1401.3" y="2040.5">rt_util_gdal_open</text>
<rect class="nn" x="1595.8" y="30.8" width="99.4" height="25.4"/>
<text x="1645.3" y="47.4">read_uint16</text>
<rect class="nn" x="1599.8" y="132.8" width="90.4" height="24.4"/>
<text x="1645.3" y="148.9">read_uint8</text>
<rect class="nn" x="1595.8" y="257.8" width="98.4" height="24.4"/>
<text x="1645.3" y="273.9">read_uint32</text>
<rect class="nn" x="1578.8" y="661.8" width="132.4" height="24.4"/>
<text x="1645.3" y="678.0">rt_pixtype_name</text>
<rect class="nn" x="1605.8" y="801.8" width="79.4" height="24.4"/>
<text x="1645.3" y="817.9">rtdealloc</text>
<rect class="nn" x="1551.8" y="1340.8" width="186.4" height="24.4"/>
<text x="1645.3" y="1357.0">rt_raster_get_num_bands</text>
<rect class="nn" x="1573.8" y="1498.8" width="143.4" height="25.4"/>
<text x="1645.3" y="1515.4">rt_raster_get_band</text>
<rect class="nd" x="1574.8" y="1807.8" width="141.4" height="39.4"/>
<text x="1645.3" y="1823.5">rt_raster_geopoint</text>
<text x="1645.3" y="1838.2">_to_rasterpoint</text>
<rect class="nn" x="1613.8" y="1922.8" width="63.4" height="25.4"/>
<text x="1645.3" y="1939.3">rtwarn</text>
<rect class="nn" x="1604.8" y="2023.8" width="80.4" height="25.4"/>
<text x="1645.3" y="2040.5">rtoptions</text>
<rect class="nn" x="1575.8" y="2073.8" width="138.4" height="24.4"/>
<text x="1645.3" y="2090.0">option_list_length</text>
<rect class="nd" x="1578.8" y="2122.8" width="132.4" height="25.4"/>
<text x="1645.3" y="2139.6">option_list_parse</text>
<rect class="nn" x="1616.8" y="2172.8" width="56.4" height="24.4"/>
<text x="1645.3" y="2189.1">rtinfo</text>
<rect class="nn" x="1786.8" y="1288.8" width="62.4" height="25.4"/>
<text x="1818.0" y="1305.8">rterror</text>
</g>
</svg>
</body></html>
